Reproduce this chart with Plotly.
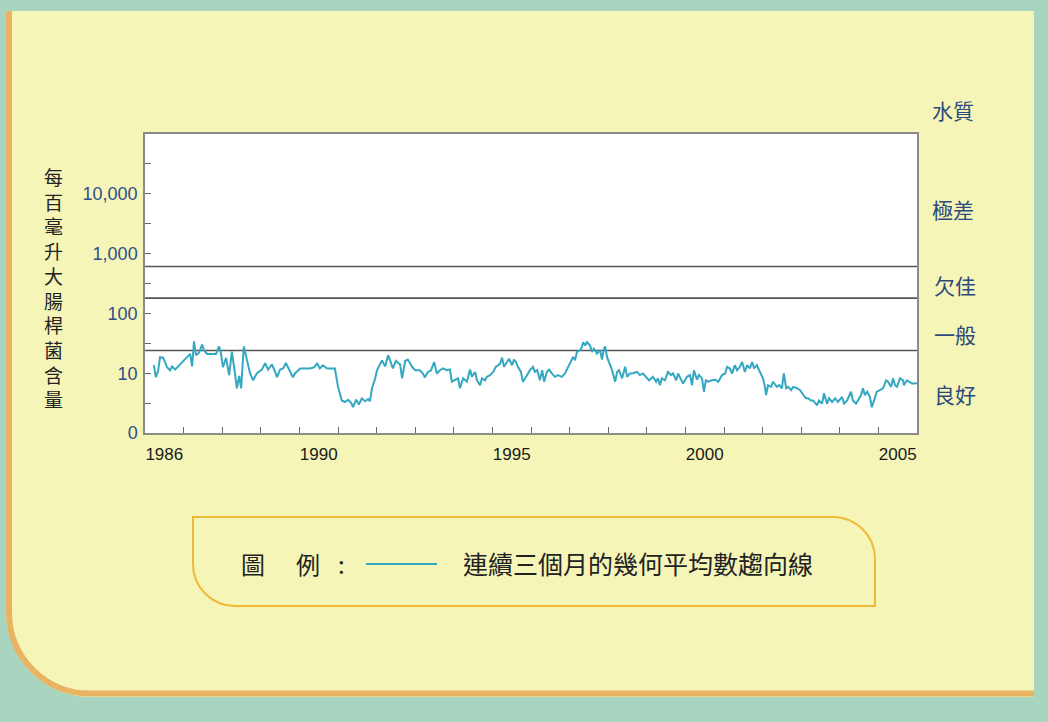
import plotly.graph_objects as go

# Three-month geometric mean of E. coli counts (per 100 mL), by decimal year
t_1986_1992 = [
    1986.23, 1986.28, 1986.34, 1986.39, 1986.47, 1986.52, 1986.57, 1986.65, 1986.70, 1986.78,
    1986.91, 1987.04, 1987.17, 1987.22, 1987.27, 1987.32, 1987.40, 1987.48, 1987.53, 1987.61,
    1987.74, 1987.84, 1987.92, 1987.97, 1988.02, 1988.10, 1988.18, 1988.25, 1988.33, 1988.38,
    1988.44, 1988.49, 1988.56, 1988.64, 1988.72, 1988.80, 1988.90, 1989.03, 1989.11, 1989.19,
    1989.29, 1989.37, 1989.42, 1989.50, 1989.58, 1989.65, 1989.73, 1989.83, 1989.89, 1990.02,
    1990.15, 1990.27, 1990.38, 1990.46, 1990.53, 1990.61, 1990.72, 1990.84, 1990.92, 1991.00,
    1991.10, 1991.18, 1991.26, 1991.34, 1991.39, 1991.47, 1991.54, 1991.62, 1991.70, 1991.78,
    1991.83, 1991.88, 1991.96, 1992.01, 1992.09, 1992.14, 1992.22, 1992.30, 1992.37, 1992.42,
    1992.50, 1992.61,
]
v_1986_1992 = [
    13.6, 8.6, 11.0, 18.5, 18.2, 15.0, 12.6, 11.2, 13.0, 11.5,
    14.0, 17.0, 21.0, 13.0, 34.0, 20.0, 22.0, 30.0, 24.0, 21.0,
    21.0, 21.0, 28.0, 21.0, 12.6, 18.0, 9.3, 23.0, 10.0, 5.6,
    9.0, 5.6, 28.0, 16.0, 10.0, 7.6, 10.0, 11.5, 14.7, 11.5,
    14.0, 10.5, 8.6, 11.5, 12.0, 14.8, 11.5, 8.6, 10.0, 12.0,
    12.0, 12.0, 12.5, 14.5, 12.0, 13.5, 12.0, 12.0, 12.0, 5.9,
    3.5, 3.3, 3.6, 3.2, 2.7, 3.6, 3.0, 3.8, 3.4, 3.7,
    3.4, 5.6, 8.0, 11.2, 14.0, 16.4, 13.0, 20.0, 15.0, 12.0,
    16.0, 14.0,
]

t_1992_1999 = [
    1992.66, 1992.74, 1992.81, 1992.92, 1993.00, 1993.12, 1993.20, 1993.25, 1993.33, 1993.41,
    1993.49, 1993.56, 1993.64, 1993.72, 1993.82, 1993.90, 1993.95, 1994.03, 1994.11, 1994.16,
    1994.24, 1994.34, 1994.42, 1994.47, 1994.55, 1994.60, 1994.68, 1994.73, 1994.81, 1994.86,
    1994.94, 1995.02, 1995.09, 1995.15, 1995.20, 1995.25, 1995.30, 1995.38, 1995.43, 1995.51,
    1995.56, 1995.61, 1995.66, 1995.74, 1995.79, 1995.90, 1995.97, 1996.05, 1996.10, 1996.16,
    1996.23, 1996.29, 1996.34, 1996.41, 1996.47, 1996.54, 1996.62, 1996.70, 1996.80, 1996.88,
    1996.96, 1997.01, 1997.09, 1997.14, 1997.19, 1997.27, 1997.32, 1997.35, 1997.40, 1997.45,
    1997.53, 1997.58, 1997.63, 1997.71, 1997.79, 1997.84, 1997.88, 1997.92, 1997.97, 1998.05,
    1998.10, 1998.18, 1998.23, 1998.28, 1998.36, 1998.44, 1998.49, 1998.56, 1998.64, 1998.75,
    1998.82, 1998.90, 1998.98, 1999.06,
]
v_1992_1999 = [
    8.2, 16.0, 16.9, 12.8, 11.2, 11.2, 9.9, 8.5, 10.5, 11.2,
    15.4, 9.9, 11.2, 12.0, 11.2, 11.5, 7.2, 7.6, 8.2, 5.6,
    8.2, 7.2, 11.5, 8.7, 10.5, 7.6, 6.3, 8.2, 7.6, 8.7,
    9.3, 10.5, 12.8, 13.6, 14.5, 18.2, 12.8, 15.4, 17.5, 13.6,
    16.9, 15.4, 12.8, 10.5, 7.2, 9.3, 11.2, 12.8, 10.5, 11.2,
    7.6, 11.2, 7.2, 10.5, 11.5, 9.9, 8.7, 9.3, 8.7, 9.9,
    12.8, 14.5, 18.7, 16.5, 22.7, 24.2, 27.5, 33.0, 29.0, 33.0,
    29.0, 22.7, 25.8, 21.3, 24.2, 16.9, 24.2, 28.0, 18.7, 13.6,
    11.2, 7.2, 10.5, 11.2, 8.2, 12.8, 8.7, 9.9, 10.0, 10.5,
    9.3, 9.9, 8.7, 7.6,
]

t_1999_2006 = [
    1999.16, 1999.24, 1999.29, 1999.34, 1999.39, 1999.47, 1999.55, 1999.63, 1999.68, 1999.76,
    1999.81, 1999.89, 1999.94, 2000.04, 2000.12, 2000.17, 2000.22, 2000.30, 2000.35, 2000.43,
    2000.48, 2000.53, 2000.59, 2000.69, 2000.77, 2000.85, 2000.95, 2001.03, 2001.08, 2001.15,
    2001.21, 2001.28, 2001.34, 2001.41, 2001.47, 2001.54, 2001.60, 2001.67, 2001.73, 2001.78,
    2001.85, 2001.91, 2002.01, 2002.06, 2002.09, 2002.14, 2002.22, 2002.27, 2002.37, 2002.43,
    2002.50, 2002.55, 2002.61, 2002.66, 2002.74, 2002.79, 2002.89, 2002.97, 2003.05, 2003.12,
    2003.18, 2003.25, 2003.31, 2003.41, 2003.46, 2003.54, 2003.59, 2003.67, 2003.72, 2003.80,
    2003.88, 2003.95, 2004.06, 2004.11, 2004.19, 2004.24, 2004.29, 2004.34, 2004.42, 2004.47,
    2004.55, 2004.60, 2004.65, 2004.71, 2004.78, 2004.83, 2004.89, 2004.96, 2005.04, 2005.12,
    2005.20, 2005.25, 2005.33, 2005.38, 2005.43, 2005.48, 2005.56, 2005.64, 2005.66, 2005.74,
    2005.87, 2005.95, 2006.00,
]
v_1999_2006 = [
    8.7, 7.2, 8.2, 6.3, 8.2, 7.6, 10.5, 9.3, 9.9, 7.6,
    9.9, 7.8, 6.7, 8.7, 9.3, 6.3, 11.2, 7.8, 9.3, 8.2,
    4.9, 7.6, 7.2, 7.6, 7.8, 7.2, 9.3, 9.9, 12.8, 12.0,
    9.9, 13.6, 11.2, 12.8, 15.4, 10.5, 13.6, 12.0, 15.4, 12.0,
    13.6, 11.2, 8.2, 5.9, 4.3, 6.3, 5.9, 7.2, 5.9, 6.3,
    5.6, 9.9, 5.6, 5.9, 5.2, 5.9, 5.6, 5.2, 4.3, 3.8,
    3.8, 3.5, 3.5, 2.9, 3.5, 3.1, 4.6, 3.1, 3.8, 3.3,
    3.8, 3.3, 4.0, 3.1, 3.5, 4.3, 4.9, 3.5, 3.1, 3.5,
    4.3, 5.6, 4.3, 4.9, 4.0, 2.7, 3.5, 4.9, 5.2, 5.6,
    7.6, 7.2, 5.9, 8.2, 6.3, 5.9, 8.2, 7.6, 6.3, 7.6,
    6.7, 6.7, 6.9,
]

years = t_1986_1992 + t_1992_1999 + t_1999_2006
ecoli = v_1986_1992 + v_1992_1999 + v_1999_2006

# Water quality thresholds (E. coli per 100 mL)
thresholds = [24, 180, 610]

# Axis ticks
x_label_years = [1986, 1990, 1995, 2000, 2005]
y_tick_values = [1, 10, 100, 1000, 10000]
y_tick_text = ["0", "10", "100", "1,000", "10,000"]

# Grade labels on the right
grade_labels = ["水質", "極差", "欠佳", "一般", "良好"]
y_title = "每百毫升大腸桿菌含量"
legend_prefix = ["圖", "例", ":"]
legend_text = "連續三個月的幾何平均數趨向線"

# ---- layout geometry (pixels) ----
W, H = 1048, 722
PL, PT, PW, PH = 145, 134, 772, 299


def px(x):
    return (x - PL) / PW


def py(y):
    return (PT + PH - y) / PH


def path(points_cmds):
    out = []
    for cmd, *pts in points_cmds:
        coords = " ".join(f"{px(a):.5f},{py(b):.5f}" for a, b in pts)
        out.append(f"{cmd} {coords}" if coords else cmd)
    return " ".join(out)


K = 0.5523
TEAL_BG = "#a9d4bf"
PANEL = "#f5f5b7"
ORANGE = "#e8b464"
GOLD = "#f1b935"
LINE = "#34a7c1"
BLUE_TXT = "#2c4a7c"

shapes = []

# yellow panel with rounded bottom-left corner
r = 85
shapes.append(dict(
    type="path", xref="paper", yref="paper", layer="below",
    path=path([("M", (6, 11)), ("L", (1034, 11)), ("L", (1034, 697)), ("L", (6 + r, 697)),
               ("C", (6 + r - K * r, 697), (6, 697 - r + K * r), (6, 697 - r)), ("Z",)]),
    fillcolor=PANEL, line=dict(width=0),
))
# orange edge along left and bottom
r2 = 81
shapes.append(dict(
    type="path", xref="paper", yref="paper", layer="below",
    path=path([("M", (9, 11)), ("L", (9, 693.5 - r2)),
               ("C", (9, 693.5 - r2 + K * r2), (9 + r2 - K * r2, 693.5), (9 + r2, 693.5)),
               ("L", (1034, 693.5))]),
    line=dict(color=ORANGE, width=6),
))
# white plotting area
shapes.append(dict(type="rect", xref="paper", yref="paper", layer="below",
                   x0=0, x1=1, y0=0, y1=1, fillcolor="white", line=dict(width=0)))
# threshold lines
for v in thresholds:
    shapes.append(dict(type="line", xref="paper", yref="y", layer="below",
                       x0=0, x1=1, y0=v, y1=v, line=dict(color="#555555", width=1.6)))

# legend frame
rl = 42
shapes.append(dict(
    type="path", xref="paper", yref="paper", layer="above",
    path=path([("M", (193, 517)), ("L", (875 - rl, 517)),
               ("C", (875 - rl + K * rl, 517), (875, 517 + rl - K * rl), (875, 517 + rl)),
               ("L", (875, 606)), ("L", (193 + rl, 606)),
               ("C", (193 + rl - K * rl, 606), (193, 606 - rl + K * rl), (193, 606 - rl)), ("Z",)]),
    line=dict(color=GOLD, width=2),
))
# legend sample line
shapes.append(dict(type="line", xref="paper", yref="paper", layer="above",
                   x0=px(366), x1=px(437), y0=py(564), y1=py(564),
                   line=dict(color=LINE, width=2)))

annotations = []
CJK = "Noto Sans CJK TC"

# vertical y-axis title, one character per line
annotations.append(dict(
    text="<br>".join(y_title), xref="paper", yref="paper", x=px(53), y=py(287),
    xanchor="center", yanchor="middle", showarrow=False, align="center",
    font=dict(family=CJK, size=19, color="#222222"),
))

# grade labels
grade_pos = [(953, 110), (953, 209), (955, 285), (955, 334), (955, 394)]
for lab, (gx, gy) in zip(grade_labels, grade_pos):
    annotations.append(dict(
        text=lab, xref="paper", yref="paper", x=px(gx), y=py(gy),
        xanchor="center", yanchor="middle", showarrow=False,
        font=dict(family=CJK, size=21, color=BLUE_TXT),
    ))

# legend text
for lab, lx in zip(legend_prefix, [253, 308, 341]):
    annotations.append(dict(
        text=lab, xref="paper", yref="paper", x=px(lx), y=py(563),
        xanchor="center", yanchor="middle", showarrow=False,
        font=dict(family=CJK, size=24, color="#222222"),
    ))
annotations.append(dict(
    text=legend_text, xref="paper", yref="paper", x=px(461), y=py(563),
    xanchor="left", yanchor="middle", showarrow=False,
    font=dict(family=CJK, size=25, color="#222222"),
))

fig = go.Figure()
fig.add_trace(go.Scatter(
    x=years, y=ecoli, mode="lines",
    line=dict(color=LINE, width=2), showlegend=False, hoverinfo="x+y",
))

fig.update_layout(
    width=W, height=H, autosize=False,
    margin=dict(l=PL, r=W - PL - PW, t=PT, b=H - PT - PH, pad=0),
    paper_bgcolor=TEAL_BG, plot_bgcolor="white",
    shapes=shapes, annotations=annotations, showlegend=False,
    xaxis=dict(
        range=[1986, 2006], showgrid=False, zeroline=False,
        tickmode="array", tickvals=[y + 0.5 for y in x_label_years],
        ticktext=[str(y) for y in x_label_years], ticks="",
        tickfont=dict(family="Liberation Sans, Arial", size=17, color="#1a1a1a"),
        ticklabelstandoff=5,
        showline=True, linecolor="#8a8a8a", linewidth=1.5, mirror=True,
        minor=dict(tickmode="array", tickvals=list(range(1987, 2006)),
                   ticks="inside", ticklen=6, tickcolor="#6a6a6a", tickwidth=1),
    ),
    yaxis=dict(
        type="log", range=[0, 5], showgrid=False, zeroline=False,
        tickmode="array", tickvals=y_tick_values, ticktext=y_tick_text,
        ticks="inside", ticklen=6, tickcolor="#6a6a6a", tickwidth=1,
        tickfont=dict(family="Liberation Sans, Arial", size=18, color="#2d4f8a"),
        ticklabelstandoff=2,
        showline=True, linecolor="#8a8a8a", linewidth=1.5, mirror=True,
        minor=dict(tickmode="array", tickvals=[10 ** (k + 0.5) for k in range(5)],
                   ticks="inside", ticklen=6, tickcolor="#6a6a6a", tickwidth=1),
    ),
)

fig.write_html("out.html")
